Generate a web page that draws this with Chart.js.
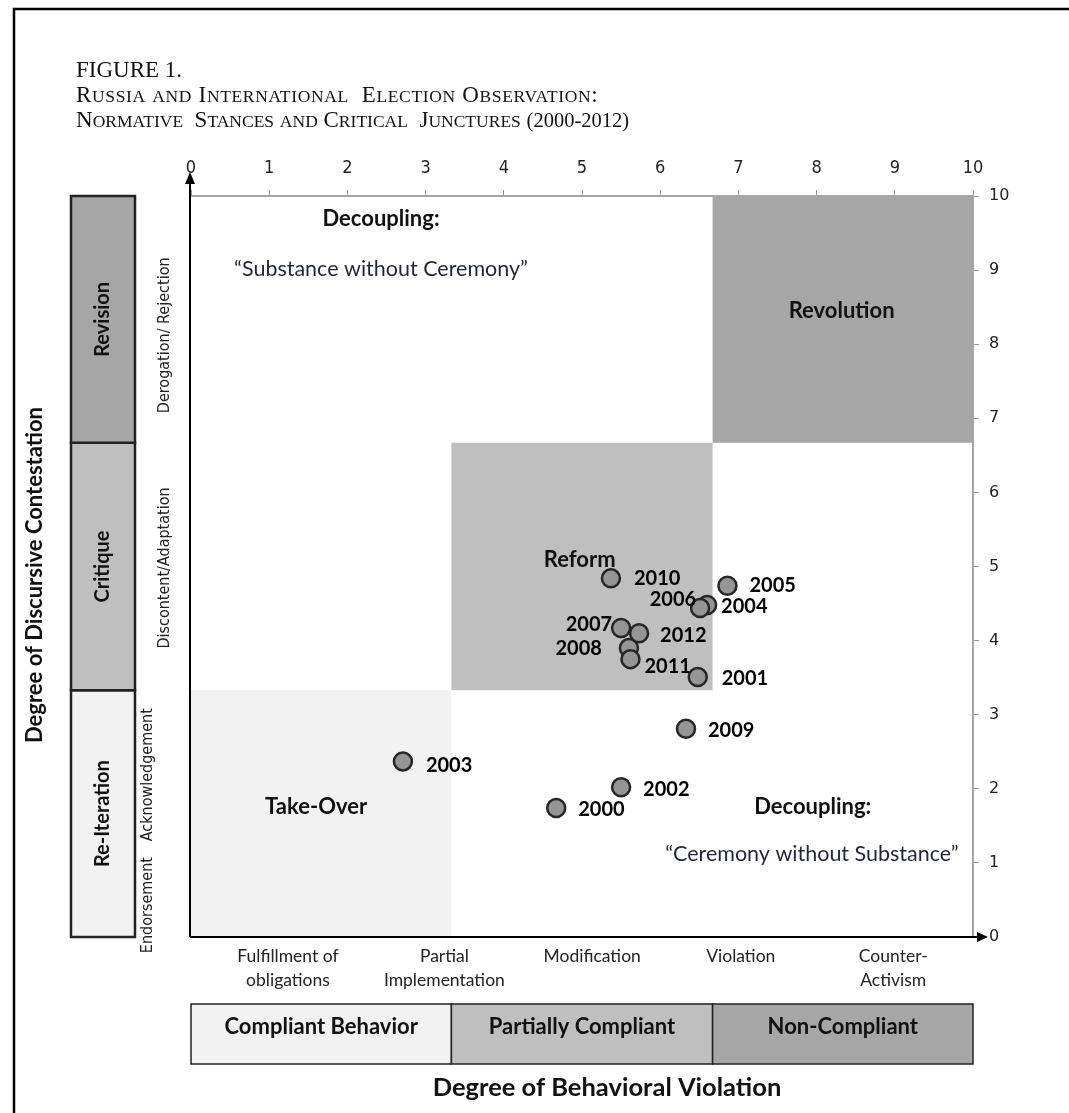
<!DOCTYPE html>
<html>
<head>
<meta charset="utf-8">
<script src="https://cdn.jsdelivr.net/npm/chart.js@4/dist/chart.umd.min.js"></script>
<style>
  html, body { margin: 0; padding: 0; background: #fff; }
  #wrap { position: relative; width: 1069px; height: 1113px; }
  #chart { position: absolute; left: 0; top: 0; }
  .title { position: absolute; left: 76px; top: 58px; font-family: 'Liberation Serif', serif; font-size: 23px; line-height: 24.5px; color: #111; white-space: pre; }
  .title .sm { font-size: 17.5px; }
  .title .num { font-size: 20.5px; letter-spacing: 0; }
  .title .l1 { letter-spacing: 0.65px; }
  .title .l2 { letter-spacing: 0; }
</style>
</head>
<body>
<div id="wrap">
  <canvas id="chart" width="1069" height="1113"></canvas>
  <div class="title" id="title"></div>
</div>
<script>
// election years and their position on the two dimensions
const years = ['2000', '2001', '2002', '2003', '2004', '2005', '2006', '2007', '2008', '2009', '2010', '2011', '2012'];
const violation = [4.67, 6.48, 5.50, 2.71, 6.60, 6.86, 6.51, 5.50, 5.60, 6.33, 5.37, 5.62, 5.73];
const contestation = [1.74, 3.51, 2.02, 2.37, 4.48, 4.74, 4.44, 4.17, 3.90, 2.81, 4.84, 3.75, 4.10];

// thirds of each axis
const bandEdges = [0, 3.33, 6.67, 10];

const stanceLabels = ['Re-Iteration', 'Critique', 'Revision'];
const complianceLabels = ['Compliant Behavior', 'Partially Compliant', 'Non-Compliant'];
const behaviorLabels = [['Fulfillment of', 'obligations'], ['Partial', 'Implementation'], ['Modification'], ['Violation'], ['Counter-', 'Activism']];
const behaviorAt = [1.24, 3.24, 5.13, 7.03, 8.98];
const discourseLabels = ['Endorsement', 'Acknowledgement', 'Discontent/Adaptation', 'Derogation/ Rejection'];
const discourseAt = [0.43, 2.19, 4.98, 8.12];

const titleLines = ['FIGURE 1.', 'Russia and International  Election Observation:', 'Normative  Stances and Critical  Junctures (2000-2012)'];

const fills = ['#f2f2f2', '#bfbfbf', '#a6a6a6'];
const sans = 'Lato, "Open Sans", sans-serif';
const narrow = '"Liberation Sans Narrow", "DejaVu Sans Condensed", sans-serif';

// where each year label sits relative to its point
const labelPlacement = {
  '2000': [22, 1, 'left'], '2001': [24, 2, 'left'], '2002': [22, 2, 'left'],
  '2003': [23, 4, 'left'], '2004': [14, 2, 'left'], '2005': [22, 0, 'left'],
  '2006': [-4, -8, 'right'], '2007': [-9, -3, 'right'], '2008': [-27, 1, 'right'],
  '2009': [22, 2, 'left'], '2010': [23, 0, 'left'], '2011': [14, 7, 'left'],
  '2012': [21, 2, 'left']
};

// text inside the plot, in data units
const regionNotes = [
  { text: 'Decoupling:', x: 2.43, y: 9.69, bold: true },
  { text: '\u201cSubstance without Ceremony\u201d', x: 2.43, y: 9.01, bold: false },
  { text: 'Revolution', x: 8.32, y: 8.45, bold: true },
  { text: 'Reform', x: 4.97, y: 5.09, bold: true },
  { text: 'Take-Over', x: 1.60, y: 1.75, bold: true },
  { text: 'Decoupling:', x: 7.95, y: 1.75, bold: true },
  { text: '\u201cCeremony without Substance\u201d', x: 7.94, y: 1.12, bold: false }
];

// small caps the way the printed figure sets them
function smallCaps(line, i) {
  if (i === 0) return line;
  const body = line.split('').map(ch => {
    if (ch >= 'a' && ch <= 'z') return '<span class="sm">' + ch.toUpperCase() + '</span>';
    if ('0123456789()-'.includes(ch)) return '<span class="num">' + ch + '</span>';
    return ch;
  }).join('');
  return '<span class="l' + i + '">' + body + '</span>';
}
document.getElementById('title').innerHTML = titleLines.map(smallCaps).join('<br>');

function rotatedText(ctx, text, x, y, font) {
  ctx.save();
  ctx.translate(x, y);
  ctx.rotate(-Math.PI / 2);
  ctx.font = font;
  ctx.textAlign = 'center';
  ctx.textBaseline = 'middle';
  ctx.fillText(text, 0, 0);
  ctx.restore();
}

const framework = {
  id: 'framework',
  beforeDraw(chart) {
    const { ctx, scales: { x, y } } = chart;
    ctx.save();
    [0, 1, 2].forEach(i => {
      const x0 = x.getPixelForValue(bandEdges[i]), x1 = x.getPixelForValue(bandEdges[i + 1]);
      const y0 = y.getPixelForValue(bandEdges[i + 1]), y1 = y.getPixelForValue(bandEdges[i]);
      ctx.fillStyle = fills[i];
      ctx.fillRect(x0, y0, x1 - x0, y1 - y0);
    });
    ctx.restore();
  },
  afterDatasetsDraw(chart) {
    const { ctx } = chart;
    const meta = chart.getDatasetMeta(0);
    ctx.save();
    ctx.fillStyle = '#000';
    ctx.font = 'bold 20px ' + sans;
    ctx.textBaseline = 'middle';
    meta.data.forEach((pt, i) => {
      const [dx, dy, align] = labelPlacement[years[i]];
      ctx.textAlign = align;
      ctx.fillText(years[i], pt.x + dx, pt.y + dy);
    });
    ctx.restore();
  },
  afterDraw(chart) {
    const { ctx, chartArea: a, scales: { x, y } } = chart;
    ctx.save();

    // notes inside the plot
    ctx.textAlign = 'center';
    ctx.textBaseline = 'middle';
    regionNotes.forEach(n => {
      ctx.font = (n.bold ? 'bold 22px ' : '21.5px ') + sans;
      ctx.fillStyle = n.bold ? '#111' : '#1f2638';
      ctx.fillText(n.text, x.getPixelForValue(n.x), y.getPixelForValue(n.y));
    });

    // black axes with arrows
    ctx.strokeStyle = '#000';
    ctx.fillStyle = '#000';
    ctx.lineWidth = 2;
    ctx.beginPath();
    ctx.moveTo(a.left - 1, a.bottom);
    ctx.lineTo(a.left - 1, a.top - 16);
    ctx.moveTo(a.left - 1, a.bottom);
    ctx.lineTo(a.right + 6, a.bottom);
    ctx.stroke();
    ctx.beginPath();
    ctx.moveTo(a.left - 1, a.top - 24);
    ctx.lineTo(a.left - 6, a.top - 12);
    ctx.lineTo(a.left + 4, a.top - 12);
    ctx.closePath();
    ctx.fill();
    ctx.beginPath();
    ctx.moveTo(a.right + 15, a.bottom);
    ctx.lineTo(a.right + 4, a.bottom - 5);
    ctx.lineTo(a.right + 4, a.bottom + 5);
    ctx.closePath();
    ctx.fill();

    // stance bars on the left
    stanceLabels.forEach((lab, i) => {
      const top = y.getPixelForValue(bandEdges[i + 1]);
      const bot = y.getPixelForValue(bandEdges[i]);
      ctx.fillStyle = fills[i];
      ctx.fillRect(71, top, 64, bot - top);
      ctx.strokeStyle = '#222';
      ctx.lineWidth = 2.5;
      ctx.strokeRect(71, top, 64, bot - top);
      ctx.fillStyle = '#111';
      rotatedText(ctx, lab, 103, (top + bot) / 2, 'bold 20px ' + sans);
    });
    discourseLabels.forEach((lab, i) => {
      ctx.fillStyle = '#222';
      const col = i < 2 ? 148 : 165;
      rotatedText(ctx, lab, col, y.getPixelForValue(discourseAt[i]), '16px ' + narrow);
    });
    ctx.fillStyle = '#111';
    rotatedText(ctx, 'Degree of Discursive Contestation', 35, 575, 'bold 22px ' + sans);

    // behaviour labels under the plot
    ctx.fillStyle = '#222';
    ctx.font = '17.5px ' + sans;
    ctx.textAlign = 'center';
    ctx.textBaseline = 'middle';
    behaviorLabels.forEach((lines, i) => {
      lines.forEach((t, k) => ctx.fillText(t, x.getPixelForValue(behaviorAt[i]), 956 + k * 24));
    });

    // compliance boxes
    complianceLabels.forEach((lab, i) => {
      const x0 = x.getPixelForValue(bandEdges[i]), x1 = x.getPixelForValue(bandEdges[i + 1]);
      ctx.fillStyle = fills[i];
      ctx.fillRect(x0, 1004, x1 - x0, 60);
      ctx.strokeStyle = '#222';
      ctx.lineWidth = 1.5;
      ctx.strokeRect(x0, 1004, x1 - x0, 60);
      ctx.fillStyle = '#111';
      ctx.font = 'bold 22px ' + sans;
      ctx.fillText(lab, (x0 + x1) / 2, 1027);
    });
    ctx.font = 'bold 25.5px ' + sans;
    ctx.fillText('Degree of Behavioral Violation', 607, 1088);

    // page frame
    ctx.strokeStyle = '#000';
    ctx.lineWidth = 2.5;
    ctx.beginPath();
    ctx.moveTo(14, 1113);
    ctx.lineTo(14, 9);
    ctx.lineTo(1069, 9);
    ctx.stroke();
    ctx.restore();
  }
};

new Chart(document.getElementById('chart'), {
  type: 'scatter',
  data: {
    datasets: [{
      data: years.map((yr, i) => ({ x: violation[i], y: contestation[i] })),
      backgroundColor: '#959595',
      borderColor: '#262626',
      borderWidth: 2.5,
      pointRadius: 9,
      pointHoverRadius: 9
    }]
  },
  options: {
    responsive: false,
    animation: false,
    events: [],
    layout: { padding: { left: 191, top: 0, right: 0, bottom: 176 } },
    plugins: { legend: { display: false }, tooltip: { enabled: false } },
    scales: {
      x: {
        type: 'linear', position: 'top', min: 0, max: 10,
        ticks: { stepSize: 1, color: '#222', padding: 11, font: { family: narrow, size: 18 } },
        grid: { drawOnChartArea: false, tickLength: 6, color: '#999' },
        border: { color: '#a6a6a6', width: 2 },
        afterFit(scale) { scale.height = 196; }
      },
      y: {
        type: 'linear', position: 'right', min: 0, max: 10,
        ticks: { stepSize: 1, color: '#222', padding: 10, font: { family: '"DejaVu Sans", Verdana, sans-serif', size: 16 } },
        grid: { drawOnChartArea: false, tickLength: 6, color: '#999' },
        border: { color: '#a6a6a6', width: 2 },
        afterFit(scale) { scale.width = 96; }
      }
    }
  },
  plugins: [framework]
});
</script>
</body>
</html>
